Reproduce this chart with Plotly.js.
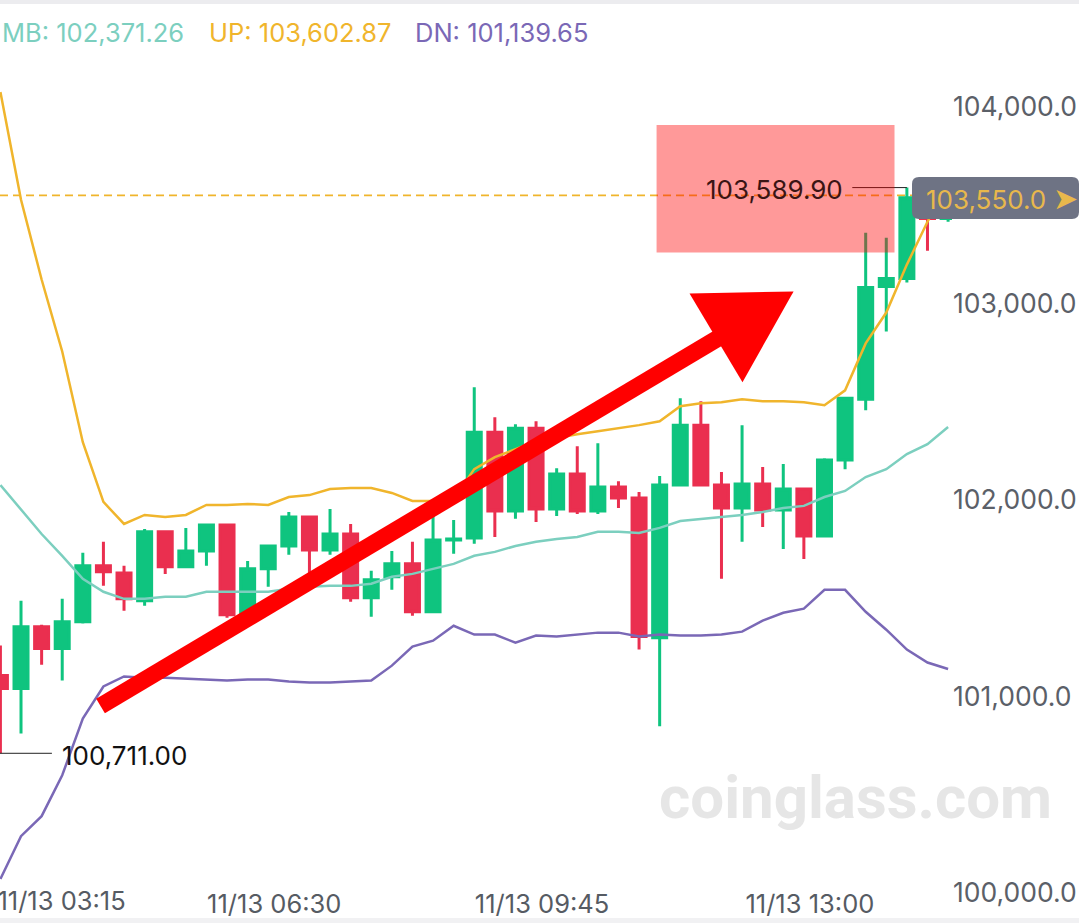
<!DOCTYPE html>
<html><head><meta charset="utf-8">
<script src="https://cdn.plot.ly/plotly-3.0.1.min.js"></script>
<style>html,body{margin:0;padding:0;background:#fff;overflow:hidden}#chart{width:1079px;height:923px}</style>
</head><body><div id="chart"></div>
<script>
// ---- data (15-minute candles, 11/13) ----
const times = ['11/13 03:15','11/13 03:30','11/13 03:45','11/13 04:00','11/13 04:15','11/13 04:30','11/13 04:45','11/13 05:00','11/13 05:15','11/13 05:30','11/13 05:45','11/13 06:00','11/13 06:15','11/13 06:30','11/13 06:45','11/13 07:00','11/13 07:15','11/13 07:30','11/13 07:45','11/13 08:00','11/13 08:15','11/13 08:30','11/13 08:45','11/13 09:00','11/13 09:15','11/13 09:30','11/13 09:45','11/13 10:00','11/13 10:15','11/13 10:30','11/13 10:45','11/13 11:00','11/13 11:15','11/13 11:30','11/13 11:45','11/13 12:00','11/13 12:15','11/13 12:30','11/13 12:45','11/13 13:00','11/13 13:15','11/13 13:30','11/13 13:45','11/13 14:00','11/13 14:15','11/13 14:30','11/13 14:45'];
const open  = [101107,101041,101355,101244,101381,101665,101629,101487,101838,101660,101741,101873,101426,101650,101766,101914,101746,101827,101503,101609,101675,101431,101797,101807,102345,101944,102365,101954,102132,101944,102066,102010,101299,102076,102381,102076,101959,102081,101949,102056,101817,102203,102513,103086,103127,103538,103432];
const high  = [101259,101487,101365,101497,101731,101787,101665,101853,101843,101858,101878,101878,101690,101766,101939,101919,101954,101878,101640,101741,101787,101919,101898,102574,102421,102386,102401,102162,102274,102289,102096,102041,102122,102518,102503,102142,102381,102168,102183,102061,102213,102518,103360,103335,103589.90,103565,103575];
const low   = [100711,100812,101162,101081,101371,101563,101437,101462,101624,101655,101665,101401,101396,101558,101721,101560,101721,101482,101406,101543,101411,101426,101726,101777,101812,101904,101888,101919,101929,101929,101959,101239,100848,102071,102071,101599,101787,101863,101751,101700,101812,102157,102457,102858,103107,103269,103416];
const close = [101041,101355,101244,101381,101665,101635,101497,101838,101660,101741,101873,101416,101650,101766,101914,101746,101827,101503,101594,101675,101431,101797,101802,102345,101944,102365,101954,102132,101944,102066,102010,101305,102076,102381,102076,101959,102081,101949,102056,101817,102203,102518,103081,103127,103538,103432,103550];
const bandUP = [104076,103528,103122,102756,102294,101990,101878,101924,101914,101924,101975,101975,101980,101975,102015,102025,102056,102061,102061,102036,101995,101995,102005,102157,102218,102259,102299,102315,102335,102350,102365,102381,102401,102477,102492,102497,102513,102503,102503,102497,102482,102558,102797,102954,103198,103416,103602.87];
const bandMB = [102076,101954,101827,101716,101599,101533,101497,101497,101508,101508,101533,101533,101533,101533,101548,101558,101563,101563,101574,101609,101624,101650,101675,101716,101736,101766,101787,101802,101812,101838,101838,101832,101858,101893,101904,101914,101924,101939,101959,101970,102015,102046,102117,102157,102234,102284,102371.26];
const bandDN = [100071,100289,100391,100599,100888,101051,101102,101096,101096,101091,101086,101081,101086,101086,101076,101071,101071,101076,101081,101157,101254,101284,101360,101315,101315,101274,101310,101305,101315,101325,101325,101305,101315,101310,101310,101315,101330,101386,101426,101447,101543,101543,101431,101340,101239,101173,101139.65];
const xTickVals = ['11/13 03:15','11/13 06:30','11/13 09:45','11/13 13:00'];
const xTickText = ['11/13 03:15','11/13 06:30','11/13 09:45','11/13 13:00'];
const yTickVals = [100000,101000,102000,103000,104000];

// ---- styling ----
const C_UP = '#f0b52c', C_MB = '#7ccfbf', C_DN = '#7a68b6';
const C_GREEN = '#0fc47f', C_RED = '#ea2f4f';
const FONT = 'Inter, Lato, "Noto Sans", sans-serif';
const fmt = (v, d) => v.toLocaleString('en-US', {minimumFractionDigits: d, maximumFractionDigits: d});

const n = times.length;
const last = n - 1;
const hiIdx = high.indexOf(Math.max(...high));
const loIdx = low.indexOf(Math.min(...low));

const traces = [
  {type:'candlestick', x:times, open:open, high:high, low:low, close:close,
   increasing:{line:{color:C_GREEN, width:3}, fillcolor:C_GREEN},
   decreasing:{line:{color:C_RED, width:3}, fillcolor:C_RED},
   whiskerwidth:0, hoverinfo:'skip'},
  // Bollinger bands drawn on the overlaying x axis (same categories, same range) so they sit above the candles
  {type:'scatter', mode:'lines', x:times, y:bandUP, xaxis:'x2', line:{color:C_UP, width:2.5}, hoverinfo:'skip'},
  {type:'scatter', mode:'lines', x:times, y:bandMB, xaxis:'x2', line:{color:C_MB, width:2.5}, hoverinfo:'skip'},
  {type:'scatter', mode:'lines', x:times, y:bandDN, xaxis:'x2', line:{color:C_DN, width:2.5}, hoverinfo:'skip'}
];

// plot-area geometry helpers (paper coordinates)
const W = 1079, H = 923, ML = 0, MR = 127, MT = 55, MB_ = 2;
const PW = W - ML - MR, PH = H - MT - MB_;
const px2paperX = p => (p - ML) / PW;
const px2paperY = p => (H - MB_ - p) / PH;

function roundRect(x0, x1, y0, y1, r) {
  const ax0 = px2paperX(x0), ax1 = px2paperX(x1), ay0 = px2paperY(y0), ay1 = px2paperY(y1);
  const rx = r / PW, ry = r / PH;
  return `M${ax0+rx},${ay0} L${ax1-rx},${ay0} Q${ax1},${ay0} ${ax1},${ay0-ry} L${ax1},${ay1+ry} Q${ax1},${ay1} ${ax1-rx},${ay1} L${ax0+rx},${ay1} Q${ax0},${ay1} ${ax0},${ay1+ry} L${ax0},${ay0-ry} Q${ax0},${ay0} ${ax0+rx},${ay0} Z`;
}

const xRange = [-0.02, 46.19];
const shapes = [
  // frame strips
  {type:'rect', xref:'paper', yref:'paper', x0:px2paperX(0), x1:px2paperX(W), y0:px2paperY(0), y1:px2paperY(4), fillcolor:'#ececef', line:{width:0}, layer:'above'},
  {type:'rect', xref:'paper', yref:'paper', x0:px2paperX(0), x1:px2paperX(W), y0:px2paperY(918), y1:px2paperY(H), fillcolor:'#f1f1f3', line:{width:0}, layer:'above'},
  // last price dashed line
  {type:'line', xref:'x', yref:'y', x0:xRange[0], x1:last - 1.6, y0:close[last], y1:close[last], line:{color:C_UP, width:1.6, dash:'8px,5px'}, layer:'below'},
  // high leader
  {type:'line', xref:'x', yref:'y', x0:hiIdx - 2.65, x1:hiIdx, y0:high[hiIdx], y1:high[hiIdx], line:{color:'#222', width:1}, layer:'above'},
  // low leader
  {type:'line', xref:'x', yref:'y', x0:loIdx - 0.2, x1:loIdx + 2.5, y0:low[loIdx], y1:low[loIdx], line:{color:'#222', width:1}, layer:'above'},
  // highlight box
  {type:'rect', xref:'x', yref:'y', x0:31.85, x1:43.4, y0:103259, y1:103909, fillcolor:'rgba(255,0,0,0.4)', line:{width:0}, layer:'above'},
  // red arrow shaft + head
  {type:'line', xref:'x', yref:'y', x0:4.86, y0:100952, x1:35.39, y1:102858, line:{color:'#ff0000', width:17}, layer:'above'},
  {type:'path', xref:'x', yref:'y', path:'M33.45,103051 L38.50,103061 L36.02,102599 Z', fillcolor:'#ff0000', line:{width:0}, layer:'above'},
  // price tag box
  {type:'path', xref:'paper', yref:'paper', path:roundRect(912, 1079, 177, 219, 7), fillcolor:'#6e7384', line:{width:0}, layer:'above'}
];

const annotations = [
  {xref:'paper', yref:'paper', x:px2paperX(0), y:px2paperY(32), xanchor:'left', yanchor:'middle', showarrow:false,
   text:'MB: ' + fmt(bandMB[last], 2), font:{family:FONT, size:25.5, color:C_MB}},
  {xref:'paper', yref:'paper', x:px2paperX(207), y:px2paperY(32), xanchor:'left', yanchor:'middle', showarrow:false,
   text:'UP: ' + fmt(bandUP[last], 2), font:{family:FONT, size:25.5, color:C_UP}},
  {xref:'paper', yref:'paper', x:px2paperX(413), y:px2paperY(32), xanchor:'left', yanchor:'middle', showarrow:false,
   text:'DN: ' + fmt(bandDN[last], 2), font:{family:FONT, size:25.5, color:C_DN}},
  {xref:'x', yref:'y', x:hiIdx - 3.0, y:high[hiIdx], xanchor:'right', yanchor:'middle', yshift:-2, showarrow:false,
   text:fmt(high[hiIdx], 2), font:{family:FONT, size:26, color:'#3a1414'}},
  {xref:'x', yref:'y', x:loIdx + 2.9, y:low[loIdx], xanchor:'left', yanchor:'middle', yshift:-2, showarrow:false,
   text:fmt(low[loIdx], 2), font:{family:FONT, size:26, color:'#111'}},
  {xref:'paper', yref:'paper', x:px2paperX(1002), y:px2paperY(198), xanchor:'center', yanchor:'middle', showarrow:false,
   text:fmt(close[last], 1) + ' <span style="font-size:30px">➤</span>', font:{family:FONT, size:26, color:'#e8b84c'}},
  {xref:'paper', yref:'paper', x:px2paperX(855), y:px2paperY(797), xanchor:'center', yanchor:'middle', showarrow:false,
   text:'coinglass.com', font:{family:'Roboto, "Noto Sans", sans-serif', size:60, color:'#e6e6e6', weight:700}}
];

const xTickFont = {family:FONT, size:25.5, color:'#565b63'};

const layout = {
  width: W, height: H,
  margin: {l:ML, r:MR, t:MT, b:MB_, pad:0},
  paper_bgcolor:'#ffffff', plot_bgcolor:'#ffffff',
  showlegend:false,
  boxgap:0.32, boxgroupgap:0,
  xaxis: {type:'category', range:xRange, rangeslider:{visible:false}, showgrid:false, zeroline:false, showline:false,
          ticks:'', tickvals:xTickVals.slice(1), ticktext:xTickText.slice(1), ticklabelposition:'inside', ticklabelshift:6,
          ticklabeloverflow:'allow', tickfont:xTickFont, fixedrange:true},
  // first time label sits at the left edge, so it is drawn left-aligned from its tick
  xaxis2: {overlaying:'x', anchor:'y', side:'bottom', type:'category', range:xRange, showgrid:false, zeroline:false, showline:false,
           ticks:'', tickvals:[xTickVals[0]], ticktext:[xTickText[0]], ticklabelposition:'inside right',
           ticklabelshift:-3, ticklabeloverflow:'allow', tickfont:xTickFont, fixedrange:true},
  yaxis: {side:'right', range:[99857.5, 104264.6], showgrid:false, zeroline:false, showline:false, ticks:'',
          tickvals:yTickVals, tickformat:',.1f', tickfont:{family:FONT, size:26.5, color:'#5b6068'}, fixedrange:true,
          ticklabeloverflow:'allow'},
  shapes: shapes,
  annotations: annotations,
  hovermode:false
};

Plotly.newPlot('chart', traces, layout, {staticPlot:true, displayModeBar:false});
</script>
</body></html>
